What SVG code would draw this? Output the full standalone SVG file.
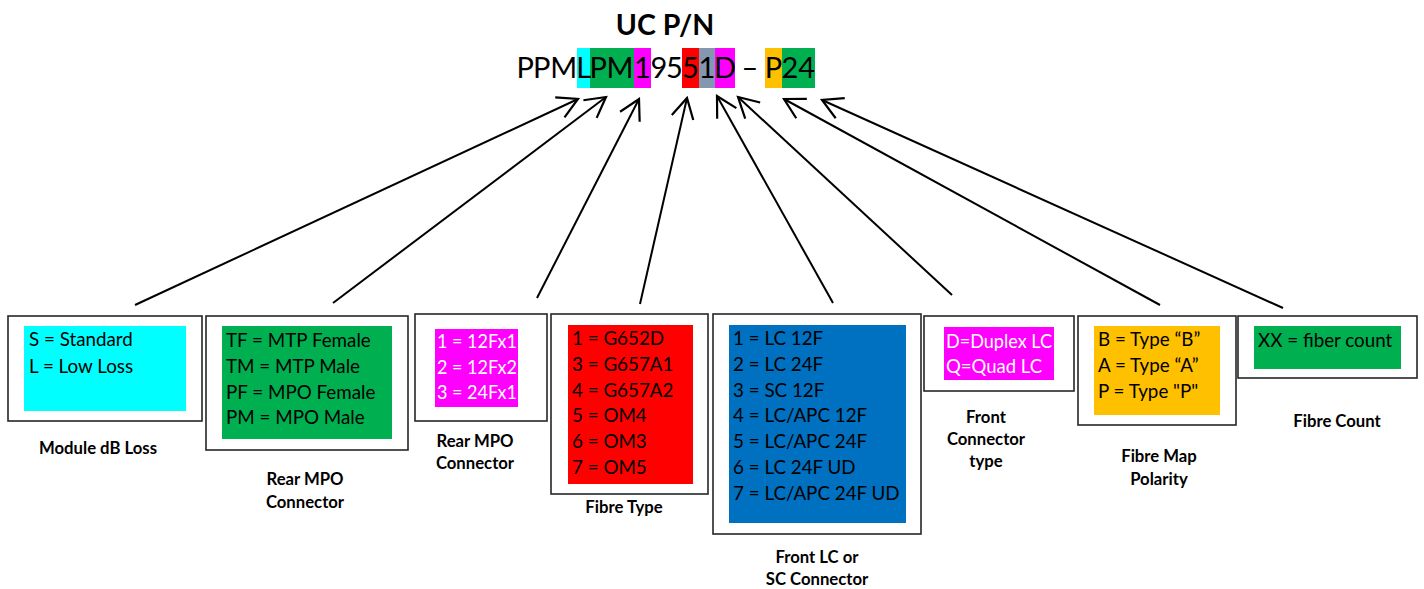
<svg xmlns="http://www.w3.org/2000/svg" width="1424" height="589" viewBox="0 0 1424 589">
<style>
  .frame { fill: #ffffff; stroke: #262626; stroke-width: 1.6; }
  .t { font-family: Lato, "Liberation Sans", sans-serif; font-size: 18.8px; fill: #000000; }
  .tw { font-family: Lato, "Liberation Sans", sans-serif; font-size: 18.8px; fill: #ffffff; }
  .lbl { font-family: Lato, "Liberation Sans", sans-serif; font-size: 16.7px; font-weight: bold; fill: #000000; text-anchor: middle; }
  .pn { font-family: Lato, "Liberation Sans", sans-serif; font-size: 29px; fill: #000000; text-anchor: middle; }
  .title { font-family: Lato, "Liberation Sans", sans-serif; font-size: 28.5px; font-weight: bold; fill: #000000; text-anchor: middle; }
  .conn line { stroke: #000000; stroke-width: 2; marker-end: url(#arr); }
</style>
<defs>
  <marker id="arr" markerUnits="userSpaceOnUse" markerWidth="26" markerHeight="26" viewBox="0 0 26 26" refX="22" refY="13" orient="auto">
    <path d="M2,2 L22,13 L2,24" fill="none" stroke="#000000" stroke-width="2.2"/>
  </marker>
</defs>
<rect width="1424" height="589" fill="#ffffff"/>

<g id="title">
  <text class="title" x="665" y="35">UC P/N</text>
</g>

<g id="partnumber">
  <rect x="577" y="48" width="13" height="40" fill="#00FFFF"/>
  <rect x="590" y="48" width="44" height="40" fill="#00B050"/>
  <rect x="634" y="48" width="17" height="40" fill="#FF00FF"/>
  <rect x="682" y="48" width="17" height="40" fill="#FF0000"/>
  <rect x="699" y="48" width="16" height="40" fill="#8497B0"/>
  <rect x="715" y="48" width="20" height="40" fill="#FF00FF"/>
  <rect x="765" y="48" width="17" height="40" fill="#FFC000"/>
  <rect x="782" y="48" width="33" height="40" fill="#00B050"/>
  <text class="pn" y="78"><tspan x="525.3">P</tspan><tspan x="541.8">P</tspan><tspan x="563.7">M</tspan><tspan x="583.7">L</tspan><tspan x="598.3">P</tspan><tspan x="620">M</tspan><tspan x="642.5">1</tspan><tspan x="659">9</tspan><tspan x="674.5">5</tspan><tspan x="690.5">5</tspan><tspan x="707">1</tspan><tspan x="725">D</tspan><tspan x="750"> – </tspan><tspan x="773.5">P</tspan><tspan x="790">2</tspan><tspan x="806.7">4</tspan></text>
</g>

<g class="conn" id="connectors">
  <line x1="135" y1="305" x2="578" y2="99"/>
  <line x1="333" y1="303" x2="606" y2="97"/>
  <line x1="537" y1="298" x2="639" y2="99"/>
  <line x1="640" y1="304" x2="687" y2="98"/>
  <line x1="833" y1="303" x2="717" y2="96"/>
  <line x1="952" y1="295" x2="738" y2="97"/>
  <line x1="1160" y1="305" x2="784" y2="99"/>
  <line x1="1283" y1="308" x2="822" y2="100"/>
</g>

<g id="node-db-loss">
  <rect class="frame" x="8" y="316" width="194" height="105"/>
  <rect x="24" y="326" width="162" height="85" fill="#00FFFF"/>
  <text class="t" x="29" y="346">S = Standard</text>
  <text class="t" x="29" y="373">L = Low Loss</text>
  <text class="lbl" x="98" y="454">Module dB Loss</text>
</g>

<g id="node-rear-mpo-type">
  <rect class="frame" x="206" y="316" width="202" height="134"/>
  <rect x="222" y="326" width="170" height="113" fill="#00B050"/>
  <text class="t" x="226" y="347">TF = MTP Female</text>
  <text class="t" x="226" y="373">TM = MTP Male</text>
  <text class="t" x="226" y="399">PF = MPO Female</text>
  <text class="t" x="226" y="424">PM = MPO Male</text>
  <text class="lbl" x="305" y="485">Rear MPO</text>
  <text class="lbl" x="305" y="508">Connector</text>
</g>

<g id="node-rear-mpo-count">
  <rect class="frame" x="415" y="314" width="132" height="107"/>
  <rect x="435" y="329" width="83" height="78" fill="#FF00FF"/>
  <text class="tw" x="437" y="348" textLength="80" lengthAdjust="spacingAndGlyphs">1 = 12Fx1</text>
  <text class="tw" x="437" y="374" textLength="80" lengthAdjust="spacingAndGlyphs">2 = 12Fx2</text>
  <text class="tw" x="437" y="399" textLength="80" lengthAdjust="spacingAndGlyphs">3 = 24Fx1</text>
  <text class="lbl" x="475" y="447">Rear MPO</text>
  <text class="lbl" x="475" y="469">Connector</text>
</g>

<g id="node-fibre-type">
  <rect class="frame" x="551" y="314" width="157" height="180"/>
  <rect x="568" y="325" width="125" height="159" fill="#FF0000"/>
  <text class="t" x="572" y="345">1 = G652D</text>
  <text class="t" x="572" y="371">3 = G657A1</text>
  <text class="t" x="572" y="397">4 = G657A2</text>
  <text class="t" x="572" y="422">5 = OM4</text>
  <text class="t" x="572" y="448">6 = OM3</text>
  <text class="t" x="572" y="474">7 = OM5</text>
  <text class="lbl" x="624" y="513">Fibre Type</text>
</g>

<g id="node-front-connector">
  <rect class="frame" x="713" y="314" width="208" height="220"/>
  <rect x="729" y="325" width="177" height="198" fill="#0070C0"/>
  <text class="t" x="733" y="345">1 = LC 12F</text>
  <text class="t" x="733" y="371">2 = LC 24F</text>
  <text class="t" x="733" y="397">3 = SC 12F</text>
  <text class="t" x="733" y="422">4 = LC/APC 12F</text>
  <text class="t" x="733" y="448">5 = LC/APC 24F</text>
  <text class="t" x="733" y="474">6 = LC 24F UD</text>
  <text class="t" x="733" y="500">7 = LC/APC 24F UD</text>
  <text class="lbl" x="817" y="563">Front LC or</text>
  <text class="lbl" x="817" y="585">SC Connector</text>
</g>

<g id="node-front-type">
  <rect class="frame" x="924" y="316" width="150" height="75"/>
  <rect x="944" y="327" width="110" height="53" fill="#FF00FF"/>
  <text class="tw" x="946" y="348" textLength="106" lengthAdjust="spacingAndGlyphs">D=Duplex LC</text>
  <text class="tw" x="946" y="373" textLength="96" lengthAdjust="spacingAndGlyphs">Q=Quad LC</text>
  <text class="lbl" x="986" y="423">Front</text>
  <text class="lbl" x="986" y="445">Connector</text>
  <text class="lbl" x="986" y="467">type</text>
</g>

<g id="node-polarity">
  <rect class="frame" x="1078" y="316" width="158" height="109"/>
  <rect x="1094" y="326" width="126" height="89" fill="#FFC000"/>
  <text class="t" x="1098" y="346">B = Type “B”</text>
  <text class="t" x="1098" y="372">A = Type “A”</text>
  <text class="t" x="1098" y="398">P = Type "P"</text>
  <text class="lbl" x="1159" y="462">Fibre Map</text>
  <text class="lbl" x="1159" y="485">Polarity</text>
</g>

<g id="node-fibre-count">
  <rect class="frame" x="1238" y="316" width="179" height="62"/>
  <rect x="1254" y="326" width="147" height="43" fill="#00B050"/>
  <text class="t" x="1258" y="347">XX = fiber count</text>
  <text class="lbl" x="1337" y="427">Fibre Count</text>
</g>
</svg>
